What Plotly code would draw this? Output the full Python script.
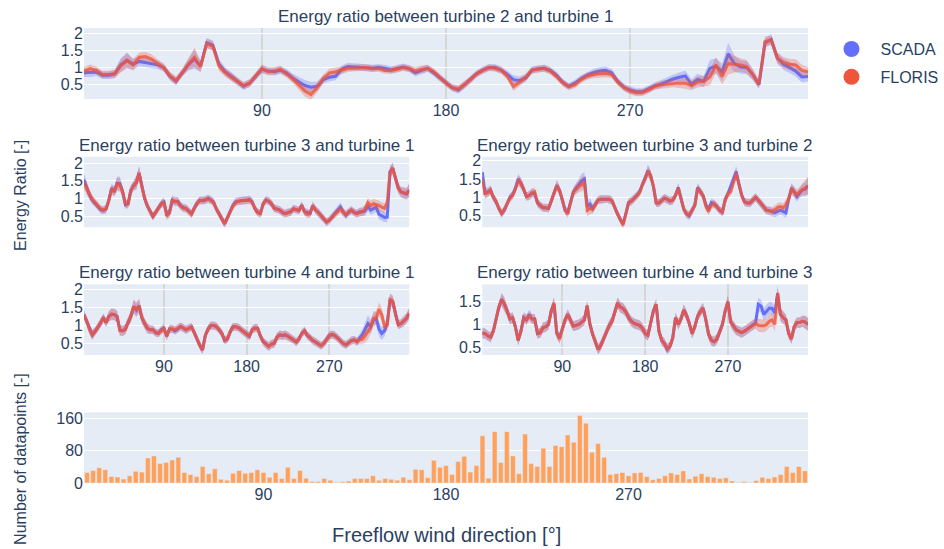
import plotly.graph_objects as go

# Wind direction bins (deg), 3-degree steps
DIRECTIONS = list(range(3, 360, 3))

# ---- Energy ratio T2 / T1 ----
T21_SCADA = [
    0.85, 0.85, 0.87, 0.78, 0.78, 0.82, 1.08, 1.22, 1.10, 1.18,
    1.15, 1.12, 1.08, 1.00, 0.75, 0.60, 0.85, 1.08, 1.25, 1.05,
    1.72, 1.65, 1.10, 0.88, 0.75, 0.60, 0.46, 0.55, 0.75, 0.95,
    0.90, 0.88, 0.93, 0.85, 0.70, 0.60, 0.48, 0.43, 0.46, 0.65,
    0.72, 0.75, 0.95, 1.03, 1.02, 1.02, 1.00, 0.98, 1.00, 0.98,
    0.93, 0.97, 1.02, 0.97, 0.85, 0.92, 0.98, 0.85, 0.70, 0.55,
    0.42, 0.35, 0.50, 0.65, 0.82, 0.93, 1.00, 1.00, 0.93, 0.80,
    0.65, 0.62, 0.70, 0.93, 0.97, 0.98, 0.92, 0.78, 0.58, 0.45,
    0.55, 0.68, 0.78, 0.85, 0.90, 0.92, 0.85, 0.60, 0.43, 0.35,
    0.30, 0.30, 0.38, 0.47, 0.52, 0.60, 0.67, 0.72, 0.76, 0.52,
    0.66, 0.60, 0.98, 1.05, 0.88, 1.40, 1.12, 1.02, 1.00, 0.80,
    0.50, 1.72, 1.82, 1.28, 1.10, 1.00, 0.90, 0.73, 0.74,
]
T21_FLORIS = [
    0.90, 0.97, 0.92, 0.80, 0.80, 0.82, 1.05, 1.20, 1.08, 1.30,
    1.32, 1.25, 1.12, 1.00, 0.76, 0.62, 0.85, 1.10, 1.30, 1.02,
    1.70, 1.62, 1.05, 0.86, 0.72, 0.60, 0.48, 0.55, 0.75, 0.98,
    0.88, 0.90, 0.95, 0.82, 0.68, 0.50, 0.32, 0.22, 0.42, 0.68,
    0.85, 0.88, 0.92, 0.98, 0.98, 1.00, 1.00, 0.97, 0.98, 0.92,
    0.92, 0.95, 1.00, 0.97, 0.90, 0.95, 0.98, 0.88, 0.72, 0.55,
    0.42, 0.38, 0.50, 0.65, 0.82, 0.92, 1.00, 0.98, 0.92, 0.75,
    0.45, 0.58, 0.72, 0.92, 0.95, 0.98, 0.90, 0.75, 0.56, 0.45,
    0.50, 0.65, 0.75, 0.80, 0.82, 0.83, 0.80, 0.58, 0.42, 0.32,
    0.27, 0.28, 0.35, 0.45, 0.50, 0.52, 0.55, 0.55, 0.55, 0.48,
    0.58, 0.60, 0.72, 1.08, 0.75, 1.12, 1.10, 1.08, 1.03, 0.80,
    0.52, 1.76, 1.80, 1.28, 1.15, 1.10, 1.08, 0.92, 0.88,
]
T21_BAND = [
    0.12, 0.12, 0.11, 0.11, 0.11, 0.12, 0.19, 0.22, 0.16, 0.14,
    0.14, 0.14, 0.12, 0.11, 0.12, 0.12, 0.11, 0.16, 0.28, 0.16,
    0.14, 0.14, 0.14, 0.12, 0.12, 0.11, 0.11, 0.11, 0.11, 0.12,
    0.11, 0.11, 0.11, 0.11, 0.12, 0.14, 0.16, 0.16, 0.14, 0.12,
    0.12, 0.12, 0.11, 0.11, 0.10, 0.10, 0.10, 0.10, 0.10, 0.10,
    0.10, 0.10, 0.10, 0.10, 0.11, 0.11, 0.10, 0.10, 0.10, 0.10,
    0.10, 0.11, 0.11, 0.10, 0.10, 0.10, 0.10, 0.10, 0.10, 0.11,
    0.13, 0.12, 0.11, 0.10, 0.10, 0.10, 0.10, 0.10, 0.10, 0.10,
    0.10, 0.10, 0.10, 0.11, 0.11, 0.11, 0.11, 0.10, 0.10, 0.10,
    0.10, 0.10, 0.10, 0.10, 0.11, 0.12, 0.12, 0.14, 0.16, 0.14,
    0.16, 0.16, 0.24, 0.22, 0.24, 0.32, 0.24, 0.19, 0.19, 0.16,
    0.12, 0.14, 0.14, 0.16, 0.16, 0.16, 0.16, 0.16, 0.14,
]

# ---- Energy ratio T3 / T1 ----
T31_SCADA = [
    1.52, 1.30, 1.10, 0.95, 0.86, 0.78, 0.68, 0.66, 0.70, 0.95,
    1.29, 1.19, 1.43, 1.42, 1.20, 0.82, 0.85, 1.24, 1.35, 1.45,
    1.72, 1.35, 1.00, 0.78, 0.62, 0.49, 0.60, 0.72, 0.85, 0.90,
    0.55, 0.60, 0.95, 0.90, 0.92, 0.80, 0.74, 0.71, 0.65, 0.57,
    0.72, 0.86, 0.95, 0.93, 0.95, 1.00, 0.95, 0.90, 0.70, 0.55,
    0.42, 0.28, 0.45, 0.62, 0.80, 0.90, 0.92, 0.93, 0.95, 0.95,
    0.97, 0.90, 0.71, 0.60, 0.57, 0.85, 0.95, 0.92, 0.85, 0.72,
    0.70, 0.67, 0.60, 0.57, 0.60, 0.62, 0.71, 0.68, 0.66, 0.81,
    0.62, 0.60, 0.57, 0.80, 0.67, 0.60, 0.50, 0.42, 0.33, 0.38,
    0.48, 0.56, 0.65, 0.76, 0.62, 0.52, 0.60, 0.67, 0.60, 0.57,
    0.62, 0.62, 0.65, 0.78, 0.67, 0.72, 0.75, 0.55, 0.50, 0.46,
    0.47, 1.76, 1.86, 1.60, 1.30, 1.18, 1.15, 1.12, 1.24,
]
T31_FLORIS = [
    1.43, 1.28, 1.10, 0.97, 0.88, 0.80, 0.70, 0.67, 0.70, 0.93,
    1.25, 1.20, 1.40, 1.38, 1.20, 0.85, 0.84, 1.22, 1.38, 1.45,
    1.72, 1.32, 1.00, 0.78, 0.62, 0.49, 0.60, 0.72, 0.83, 0.90,
    0.50, 0.58, 0.95, 0.92, 0.90, 0.78, 0.72, 0.72, 0.62, 0.55,
    0.72, 0.86, 0.93, 0.95, 0.95, 0.98, 0.95, 0.88, 0.70, 0.55,
    0.42, 0.28, 0.45, 0.62, 0.78, 0.88, 0.92, 0.93, 0.93, 0.95,
    0.95, 0.90, 0.71, 0.60, 0.57, 0.85, 0.95, 0.92, 0.85, 0.72,
    0.70, 0.67, 0.60, 0.57, 0.60, 0.62, 0.70, 0.68, 0.65, 0.80,
    0.62, 0.55, 0.57, 0.80, 0.67, 0.60, 0.50, 0.42, 0.33, 0.38,
    0.48, 0.55, 0.62, 0.70, 0.60, 0.55, 0.62, 0.67, 0.60, 0.57,
    0.60, 0.62, 0.70, 0.88, 0.80, 0.85, 0.82, 0.80, 0.75, 0.72,
    0.88, 1.74, 1.85, 1.55, 1.28, 1.18, 1.15, 1.14, 1.22,
]
T31_BAND = [
    0.19, 0.16, 0.14, 0.12, 0.12, 0.11, 0.11, 0.11, 0.12, 0.14,
    0.14, 0.14, 0.19, 0.19, 0.14, 0.12, 0.12, 0.14, 0.14, 0.19,
    0.19, 0.16, 0.14, 0.12, 0.12, 0.11, 0.11, 0.11, 0.11, 0.12,
    0.12, 0.12, 0.12, 0.12, 0.12, 0.11, 0.11, 0.11, 0.11, 0.11,
    0.11, 0.11, 0.11, 0.11, 0.11, 0.11, 0.11, 0.11, 0.11, 0.11,
    0.11, 0.12, 0.11, 0.11, 0.11, 0.11, 0.11, 0.11, 0.11, 0.11,
    0.11, 0.11, 0.11, 0.11, 0.11, 0.11, 0.11, 0.11, 0.11, 0.11,
    0.11, 0.11, 0.11, 0.11, 0.11, 0.11, 0.11, 0.11, 0.11, 0.11,
    0.11, 0.11, 0.11, 0.11, 0.11, 0.11, 0.11, 0.11, 0.11, 0.11,
    0.11, 0.11, 0.11, 0.12, 0.12, 0.11, 0.11, 0.11, 0.11, 0.11,
    0.12, 0.12, 0.14, 0.14, 0.14, 0.14, 0.14, 0.14, 0.14, 0.14,
    0.14, 0.16, 0.16, 0.14, 0.14, 0.14, 0.16, 0.16, 0.19,
]

# ---- Energy ratio T3 / T2 ----
T32_SCADA = [
    1.68, 1.12, 1.15, 1.20, 1.00, 0.88, 0.70, 0.57, 0.65, 0.85,
    1.00, 1.07, 1.25, 1.50, 1.38, 1.22, 1.02, 1.05, 1.12, 1.10,
    0.85, 0.78, 0.72, 0.72, 0.70, 0.90, 1.15, 1.33, 1.20, 0.95,
    0.65, 0.60, 0.88, 1.15, 1.25, 1.35, 1.45, 1.50, 0.75, 0.82,
    0.70, 0.82, 0.93, 0.95, 0.95, 0.97, 0.95, 0.91, 0.72, 0.55,
    0.40, 0.28, 0.55, 0.86, 0.90, 0.97, 1.05, 1.15, 1.35, 1.50,
    1.73, 1.58, 1.30, 0.85, 0.85, 0.92, 0.98, 0.95, 0.90, 0.92,
    1.05, 1.27, 0.95, 0.68, 0.55, 0.50, 0.65, 0.78, 1.27, 1.15,
    1.05, 0.80, 0.68, 0.86, 0.82, 0.75, 0.65, 0.60, 0.95, 1.10,
    1.32, 1.50, 1.70, 1.35, 1.05, 0.88, 0.85, 0.85, 0.92, 1.00,
    0.92, 0.82, 0.72, 0.65, 0.64, 0.60, 0.58, 0.62, 0.65, 0.62,
    0.58, 0.95, 1.25, 1.15, 1.02, 1.12, 1.20, 1.22, 1.32,
]
T32_FLORIS = [
    1.50, 1.10, 1.12, 1.20, 1.00, 0.90, 0.70, 0.56, 0.67, 0.85,
    0.98, 1.05, 1.22, 1.45, 1.40, 1.22, 1.02, 1.05, 1.12, 1.15,
    0.85, 0.78, 0.72, 0.72, 0.70, 0.90, 1.12, 1.32, 1.18, 0.95,
    0.65, 0.55, 0.85, 1.15, 1.22, 1.30, 1.35, 1.40, 0.65, 0.70,
    0.68, 0.80, 0.93, 0.95, 0.95, 0.97, 0.95, 0.91, 0.72, 0.55,
    0.40, 0.25, 0.55, 0.86, 0.90, 0.97, 1.05, 1.12, 1.35, 1.50,
    1.70, 1.60, 1.30, 0.85, 0.85, 0.92, 0.98, 0.95, 0.90, 0.92,
    1.05, 1.25, 0.95, 0.68, 0.55, 0.52, 0.65, 0.78, 1.25, 1.15,
    1.05, 0.75, 0.62, 0.80, 0.82, 0.75, 0.65, 0.60, 0.92, 1.10,
    1.15, 1.40, 1.65, 1.35, 1.05, 0.88, 0.85, 0.85, 0.92, 1.00,
    0.92, 0.82, 0.72, 0.65, 0.64, 0.62, 0.66, 0.73, 0.75, 0.72,
    0.80, 0.95, 1.22, 1.15, 1.08, 1.15, 1.22, 1.25, 1.32,
]
T32_BAND = [
    0.19, 0.14, 0.12, 0.12, 0.11, 0.11, 0.11, 0.11, 0.11, 0.11,
    0.11, 0.11, 0.12, 0.14, 0.14, 0.12, 0.11, 0.12, 0.12, 0.12,
    0.11, 0.11, 0.11, 0.11, 0.11, 0.11, 0.12, 0.14, 0.12, 0.11,
    0.11, 0.11, 0.11, 0.12, 0.14, 0.16, 0.19, 0.19, 0.16, 0.16,
    0.12, 0.11, 0.11, 0.11, 0.11, 0.11, 0.11, 0.11, 0.11, 0.11,
    0.11, 0.11, 0.11, 0.11, 0.11, 0.11, 0.11, 0.11, 0.11, 0.12,
    0.16, 0.14, 0.12, 0.11, 0.11, 0.11, 0.11, 0.11, 0.11, 0.11,
    0.11, 0.12, 0.11, 0.11, 0.11, 0.11, 0.11, 0.11, 0.11, 0.11,
    0.11, 0.11, 0.11, 0.11, 0.11, 0.11, 0.11, 0.11, 0.11, 0.11,
    0.12, 0.14, 0.16, 0.12, 0.11, 0.11, 0.11, 0.11, 0.11, 0.11,
    0.11, 0.11, 0.11, 0.11, 0.11, 0.11, 0.12, 0.12, 0.12, 0.12,
    0.14, 0.14, 0.14, 0.14, 0.14, 0.14, 0.16, 0.19, 0.24,
]

# ---- Energy ratio T4 / T1 ----
T41_SCADA = [
    1.30, 1.12, 0.90, 0.74, 0.83, 0.95, 1.06, 1.22, 1.08, 1.25,
    1.30, 1.30, 1.25, 0.88, 0.85, 0.90, 1.10, 1.25, 1.52, 1.42,
    1.55, 1.20, 1.05, 0.92, 0.88, 0.88, 0.80, 0.78, 0.88, 0.92,
    0.70, 0.90, 0.90, 0.85, 0.90, 0.97, 0.93, 0.88, 0.92, 0.96,
    0.80, 0.62, 0.45, 0.32, 0.72, 0.90, 1.00, 1.00, 0.97, 0.88,
    0.78, 0.58, 0.62, 0.82, 0.96, 0.96, 0.94, 0.88, 0.82, 0.75,
    0.70, 0.88, 0.93, 0.92, 0.70, 0.55, 0.48, 0.42, 0.48, 0.50,
    0.68, 0.74, 0.72, 0.74, 0.70, 0.65, 0.60, 0.54, 0.62, 0.78,
    0.85, 0.72, 0.66, 0.58, 0.54, 0.48, 0.44, 0.50, 0.60, 0.72,
    0.75, 0.72, 0.65, 0.57, 0.50, 0.46, 0.52, 0.58, 0.60, 0.55,
    0.65, 0.75, 0.90, 1.05, 0.97, 1.15, 1.20, 0.90, 0.78, 0.85,
    1.05, 1.71, 1.65, 1.30, 1.02, 1.05, 1.12, 1.20, 1.32,
]
T41_FLORIS = [
    1.28, 1.12, 0.88, 0.74, 0.83, 0.95, 1.06, 1.20, 1.08, 1.25,
    1.32, 1.30, 1.25, 0.85, 0.85, 0.88, 1.10, 1.25, 1.53, 1.45,
    1.55, 1.22, 1.05, 0.92, 0.88, 0.88, 0.80, 0.78, 0.85, 0.92,
    0.70, 0.90, 0.90, 0.88, 0.92, 0.97, 0.93, 0.88, 0.92, 0.96,
    0.80, 0.62, 0.45, 0.32, 0.72, 0.90, 1.00, 1.00, 0.97, 0.88,
    0.78, 0.60, 0.62, 0.82, 0.96, 0.96, 0.94, 0.88, 0.82, 0.75,
    0.70, 0.88, 0.93, 0.92, 0.70, 0.55, 0.48, 0.42, 0.48, 0.50,
    0.68, 0.74, 0.72, 0.74, 0.70, 0.65, 0.60, 0.54, 0.62, 0.78,
    0.85, 0.72, 0.66, 0.58, 0.54, 0.48, 0.44, 0.50, 0.60, 0.72,
    0.75, 0.72, 0.65, 0.57, 0.50, 0.46, 0.52, 0.58, 0.60, 0.55,
    0.60, 0.62, 0.72, 0.85, 0.95, 1.20, 1.20, 1.45, 1.30, 0.98,
    1.00, 1.72, 1.68, 1.30, 1.02, 1.05, 1.12, 1.20, 1.34,
]
T41_BAND = [
    0.12, 0.12, 0.14, 0.14, 0.12, 0.12, 0.12, 0.12, 0.12, 0.14,
    0.16, 0.16, 0.16, 0.14, 0.14, 0.14, 0.14, 0.16, 0.19, 0.19,
    0.19, 0.16, 0.14, 0.14, 0.12, 0.12, 0.11, 0.11, 0.11, 0.11,
    0.11, 0.11, 0.11, 0.11, 0.11, 0.11, 0.11, 0.11, 0.11, 0.11,
    0.11, 0.11, 0.12, 0.12, 0.12, 0.11, 0.11, 0.11, 0.11, 0.11,
    0.11, 0.11, 0.11, 0.11, 0.11, 0.11, 0.11, 0.11, 0.11, 0.11,
    0.11, 0.11, 0.11, 0.11, 0.11, 0.11, 0.12, 0.12, 0.12, 0.12,
    0.12, 0.12, 0.12, 0.12, 0.12, 0.11, 0.11, 0.11, 0.11, 0.11,
    0.11, 0.11, 0.11, 0.11, 0.11, 0.11, 0.11, 0.11, 0.11, 0.11,
    0.11, 0.11, 0.11, 0.11, 0.11, 0.11, 0.11, 0.11, 0.11, 0.11,
    0.12, 0.14, 0.19, 0.24, 0.19, 0.19, 0.19, 0.19, 0.19, 0.16,
    0.14, 0.16, 0.16, 0.14, 0.12, 0.12, 0.14, 0.14, 0.16,
]

# ---- Energy ratio T4 / T3 ----
T43_SCADA = [
    0.82, 0.80, 0.75, 0.72, 0.85, 1.10, 1.38, 1.55, 1.45, 1.30,
    1.12, 1.15, 0.95, 0.65, 0.85, 1.15, 1.10, 1.22, 1.12, 1.12,
    0.80, 0.82, 0.93, 0.95, 1.00, 1.30, 1.45, 0.80, 0.71, 0.90,
    1.10, 1.22, 1.08, 0.96, 0.98, 1.00, 1.05, 1.10, 1.40, 1.00,
    0.78, 0.60, 0.45, 0.55, 0.70, 0.85, 0.98, 1.07, 1.25, 1.47,
    1.38, 1.35, 1.28, 1.15, 1.07, 1.02, 1.00, 0.98, 0.92, 0.80,
    0.76, 1.00, 1.30, 1.44, 0.85, 0.65, 0.58, 0.45, 0.52, 0.70,
    1.15, 1.00, 1.12, 1.32, 1.20, 1.02, 0.80, 0.95, 1.18, 1.28,
    1.36, 1.10, 0.78, 0.65, 0.62, 0.68, 0.85, 1.00, 1.30, 1.50,
    1.05, 0.95, 0.88, 0.85, 0.82, 0.85, 0.90, 0.94, 0.98, 1.03,
    1.44, 1.40, 1.22, 1.30, 1.36, 1.35, 1.25, 1.68, 1.22, 1.15,
    1.10, 0.80, 0.68, 0.95, 1.04, 1.04, 1.07, 1.05, 1.00,
]
T43_FLORIS = [
    0.80, 0.80, 0.75, 0.72, 0.85, 1.10, 1.38, 1.55, 1.45, 1.30,
    1.12, 1.15, 0.95, 0.65, 0.85, 1.15, 1.10, 1.18, 1.12, 1.12,
    0.80, 0.82, 0.93, 0.95, 1.00, 1.30, 1.47, 0.80, 0.68, 0.90,
    1.10, 1.22, 1.08, 0.96, 0.98, 1.00, 1.05, 1.10, 1.42, 1.00,
    0.78, 0.60, 0.45, 0.55, 0.70, 0.85, 0.98, 1.07, 1.25, 1.47,
    1.38, 1.35, 1.28, 1.15, 1.07, 1.02, 1.00, 0.98, 0.92, 0.80,
    0.76, 1.00, 1.30, 1.44, 0.85, 0.65, 0.58, 0.47, 0.52, 0.70,
    1.15, 1.00, 1.12, 1.32, 1.20, 1.02, 0.80, 0.95, 1.18, 1.28,
    1.36, 1.10, 0.78, 0.65, 0.62, 0.68, 0.85, 1.00, 1.30, 1.50,
    1.05, 0.95, 0.88, 0.85, 0.82, 0.85, 0.90, 0.94, 0.98, 1.02,
    0.98, 0.97, 0.97, 1.00, 1.07, 1.10, 1.00, 1.69, 1.22, 1.15,
    1.10, 0.80, 0.68, 0.95, 1.04, 1.04, 1.07, 1.05, 1.00,
]
T43_BAND = [
    0.12, 0.11, 0.11, 0.11, 0.11, 0.12, 0.12, 0.14, 0.14, 0.12,
    0.12, 0.12, 0.11, 0.11, 0.11, 0.11, 0.11, 0.11, 0.11, 0.11,
    0.11, 0.11, 0.11, 0.11, 0.11, 0.11, 0.14, 0.11, 0.11, 0.11,
    0.11, 0.11, 0.11, 0.11, 0.11, 0.11, 0.11, 0.11, 0.11, 0.11,
    0.11, 0.11, 0.11, 0.11, 0.11, 0.11, 0.11, 0.11, 0.11, 0.12,
    0.12, 0.12, 0.11, 0.11, 0.11, 0.11, 0.11, 0.11, 0.11, 0.11,
    0.11, 0.11, 0.11, 0.12, 0.11, 0.11, 0.11, 0.11, 0.11, 0.11,
    0.11, 0.11, 0.11, 0.12, 0.11, 0.11, 0.11, 0.11, 0.11, 0.11,
    0.11, 0.11, 0.11, 0.11, 0.11, 0.11, 0.11, 0.11, 0.11, 0.14,
    0.11, 0.11, 0.11, 0.11, 0.11, 0.11, 0.11, 0.11, 0.11, 0.11,
    0.14, 0.14, 0.14, 0.14, 0.14, 0.14, 0.14, 0.16, 0.14, 0.14,
    0.12, 0.11, 0.11, 0.11, 0.11, 0.12, 0.12, 0.14, 0.14,
]

# ---- Number of datapoints per bin ----
BIN_COUNTS = [
    26, 31, 38, 33, 16, 15, 10, 18, 29, 27,
    62, 67, 48, 51, 57, 64, 26, 21, 16, 41,
    23, 35, 9, 7, 24, 31, 24, 26, 33, 26,
    14, 26, 11, 39, 11, 31, 12, 4, 4, 11,
    7, 2, 3, 5, 11, 11, 11, 18, 7, 11,
    9, 7, 14, 8, 34, 33, 13, 56, 39, 43,
    21, 53, 66, 27, 43, 117, 12, 127, 51, 127,
    67, 23, 121, 48, 41, 86, 41, 93, 90, 119,
    101, 167, 148, 76, 98, 64, 21, 23, 26, 18,
    25, 26, 16, 8, 11, 18, 25, 21, 30, 10,
    17, 23, 16, 14, 11, 13, 5, 1, 3, 1,
    6, 14, 11, 15, 21, 41, 26, 41, 30,
]

DIR_TICKS = [90, 180, 270]

SCADA_COLOR = "#636EFA"
FLORIS_COLOR = "#EF553B"
SCADA_LINE = "#636EFA"
FLORIS_LINE = "rgba(239,85,59,0.8)"
SCADA_FILL = "rgba(99,110,250,0.3)"
FLORIS_FILL = "rgba(239,85,59,0.3)"
BAR_COLOR = "#FFA15A"
TEXT_COLOR = "#2a3f5f"
FONT = "Liberation Sans, Arial, sans-serif"

# Panel layout: (title, scada, floris, band, axis index, x-domain, y-domain, y-range, show x labels/grid)
LEFT = [0.0, 0.4493]
RIGHT = [0.5501, 1.0]
FULL = [0.0, 1.0]
panels = [
    ("Energy ratio between turbine 2 and turbine 1", T21_SCADA, T21_FLORIS, T21_BAND,
     1, FULL, [0.844, 1.0], [0.09, 2.15], True),
    ("Energy ratio between turbine 3 and turbine 1", T31_SCADA, T31_FLORIS, T31_BAND,
     2, LEFT, [0.562, 0.717], [0.18, 2.18], False),
    ("Energy ratio between turbine 3 and turbine 2", T32_SCADA, T32_FLORIS, T32_BAND,
     3, RIGHT, [0.562, 0.717], [0.19, 2.10], False),
    ("Energy ratio between turbine 4 and turbine 1", T41_SCADA, T41_FLORIS, T41_BAND,
     4, LEFT, [0.2813, 0.4367], [0.18, 2.14], True),
    ("Energy ratio between turbine 4 and turbine 3", T43_SCADA, T43_FLORIS, T43_BAND,
     5, RIGHT, [0.2813, 0.4367], [0.33, 1.88], True),
]

fig = go.Figure()
layout_axes = {}
annotations = []


def band_polygon(values, half):
    upper = [v + h for v, h in zip(values, half)]
    lower = [v - h for v, h in zip(values, half)]
    return DIRECTIONS + DIRECTIONS[::-1], upper + lower[::-1]


for title, scada, floris, band, idx, xdom, ydom, yrng, show_x in panels:
    xa = "x" if idx == 1 else f"x{idx}"
    ya = "y" if idx == 1 else f"y{idx}"
    for values, line_color, fill_color in ((scada, SCADA_LINE, SCADA_FILL),
                                           (floris, FLORIS_LINE, FLORIS_FILL)):
        bx, by = band_polygon(values, band)
        fig.add_trace(go.Scatter(x=bx, y=by, fill="toself", fillcolor=fill_color,
                                 line=dict(width=0), mode="lines", hoverinfo="skip",
                                 showlegend=False, xaxis=xa, yaxis=ya))
        fig.add_trace(go.Scatter(x=DIRECTIONS, y=values, mode="lines",
                                 line=dict(color=line_color, width=3),
                                 showlegend=False, xaxis=xa, yaxis=ya))
    key = "" if idx == 1 else str(idx)
    layout_axes[f"xaxis{key}"] = dict(
        domain=xdom, anchor=ya, range=[3, 357], tickvals=DIR_TICKS,
        showticklabels=show_x, showgrid=show_x, gridcolor="#d6d6d6", gridwidth=1.5,
        zeroline=False, tickfont=dict(size=16),
    )
    layout_axes[f"yaxis{key}"] = dict(
        domain=ydom, anchor=xa, range=yrng, tick0=0, dtick=0.5,
        gridcolor="white", zeroline=False, tickfont=dict(size=16),
    )
    annotations.append(dict(
        text=title, x=(xdom[0] + xdom[1]) / 2, y=ydom[1], xref="paper", yref="paper",
        xanchor="center", yanchor="bottom", showarrow=False, font=dict(size=17),
    ))

# Datapoint counts
fig.add_trace(go.Bar(x=DIRECTIONS, y=BIN_COUNTS, marker_color=BAR_COLOR,
                     showlegend=False, xaxis="x6", yaxis="y6"))
layout_axes["xaxis6"] = dict(
    domain=FULL, anchor="y6", range=[1.5, 358.5], tickvals=DIR_TICKS,
    showgrid=False, zeroline=False, tickfont=dict(size=16),
)
layout_axes["yaxis6"] = dict(
    domain=[0.0, 0.1554], anchor="x6", range=[0, 175], tick0=0, dtick=80,
    gridcolor="white", zeroline=False, tickfont=dict(size=16),
)

# Legend entries
for name, color in (("SCADA", SCADA_COLOR), ("FLORIS", FLORIS_COLOR)):
    fig.add_trace(go.Scatter(x=[None], y=[None], mode="markers", name=name,
                             legendgroup=name,
                             marker=dict(color=color, size=16), xaxis="x", yaxis="y"))

annotations += [
    dict(text="Energy Ratio [-]", textangle=-90, x=-0.087, y=0.631, xref="paper",
         yref="paper", xanchor="center", yanchor="middle", showarrow=False,
         font=dict(size=16)),
    dict(text="Number of datapoints [-]", textangle=-90, x=-0.087, y=0.053,
         xref="paper", yref="paper", xanchor="center", yanchor="middle",
         showarrow=False, font=dict(size=16)),
    dict(text="Freeflow wind direction [°]", x=0.5, y=-0.114, xref="paper",
         yref="paper", xanchor="center", yanchor="middle", showarrow=False,
         font=dict(size=20)),
]

fig.update_layout(
    width=944, height=549,
    margin=dict(l=84, r=136, t=28, b=66, autoexpand=False),
    font=dict(family=FONT, color=TEXT_COLOR, size=16),
    plot_bgcolor="#E5ECF6", paper_bgcolor="white",
    legend=dict(x=1.02, y=0.991, xanchor="left", yanchor="top", font=dict(size=16),
                itemwidth=48, tracegroupgap=4),
    annotations=annotations,
    bargap=0.2,
    **layout_axes,
)

fig.write_html("out.html")
